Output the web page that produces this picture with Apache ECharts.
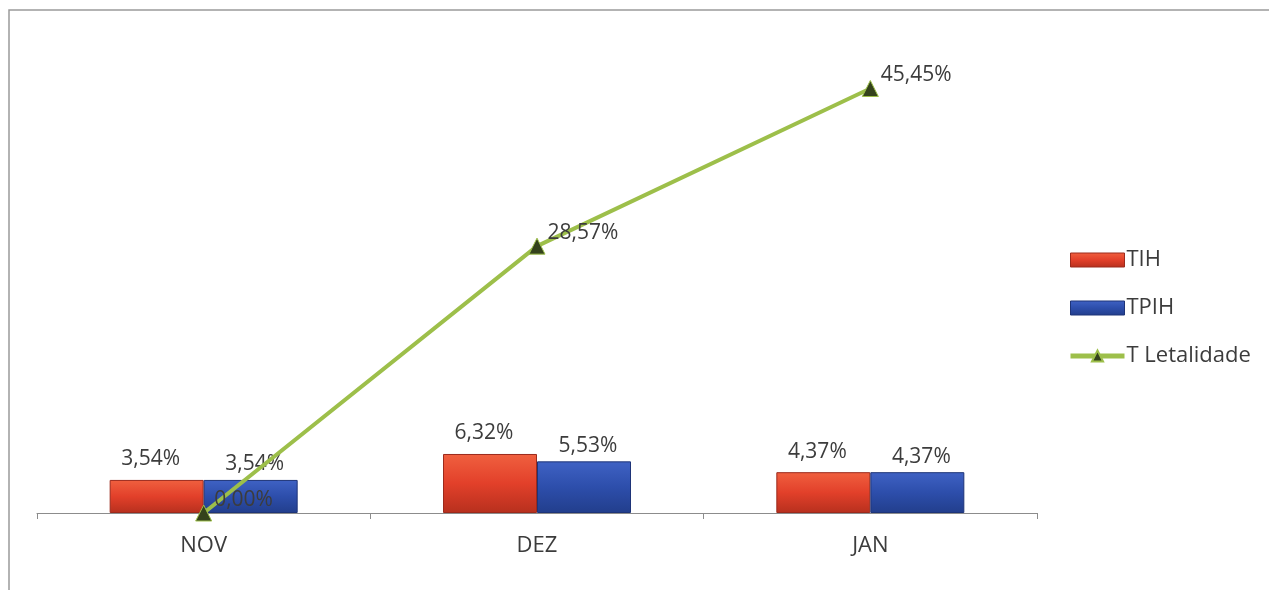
<!DOCTYPE html>
<html>
<head>
<meta charset="utf-8">
<script src="https://cdn.jsdelivr.net/npm/echarts@6/dist/echarts.min.js"></script>
<style>
  html, body { margin: 0; padding: 0; background: #fff; }
  #box { width: 1269px; height: 590px; }
</style>
</head>
<body>
<div id="box"></div>
<script>
const categories = ['NOV', 'DEZ', 'JAN'];
const tih = [3.54, 6.32, 4.37];
const tpih = [3.54, 5.53, 4.37];
const letalidade = [0.00, 28.57, 45.45];

const fmt = v => v.toFixed(2).replace('.', ',') + '%';

let myecharts = echarts.init(document.getElementById('box'));

const labelStyle = {
  show: true,
  fontFamily: 'Open Sans',
  fontSize: 21,
  color: '#3c3c3c',
  formatter: p => fmt(p.value)
};

let options = {
  animation: false,
  textStyle: { fontFamily: 'Open Sans' },
  graphic: [
    {
      type: 'polyline',
      shape: { points: [[9, 590], [9, 10], [1269, 10]] },
      style: { stroke: '#9a9a9a', lineWidth: 1.5, fill: null }
    }
  ],
  grid: { left: 37, right: 232, top: 46, bottom: 77 },
  legend: {
    orient: 'vertical',
    left: 1063,
    top: 244,
    itemGap: 26,
    itemWidth: 54,
    itemHeight: 14,
    textStyle: { fontSize: 22, color: '#3c3c3c', fontFamily: 'Open Sans', padding: [0, 0, 0, -3] },
    data: [
      { name: 'TIH', icon: 'rect', itemStyle: { borderWidth: 1 } },
      { name: 'TPIH', icon: 'rect', itemStyle: { borderWidth: 1 } },
      { name: 'T Letalidade', lineStyle: { width: 5 } }
    ]
  },
  xAxis: {
    type: 'category',
    data: categories,
    axisLine: { lineStyle: { color: '#8c8c8c', width: 1 } },
    axisTick: { show: true, length: 6, lineStyle: { color: '#8c8c8c' } },
    axisLabel: { fontSize: 22, color: '#3c3c3c', margin: 22, fontFamily: 'Open Sans' }
  },
  yAxis: {
    type: 'value',
    min: 0,
    max: 50,
    show: false
  },
  series: [
    {
      name: 'TIH',
      type: 'bar',
      data: tih,
      barWidth: 94,
      barGap: '0%',
      itemStyle: {
        color: new echarts.graphic.LinearGradient(0, 0, 0, 1, [
          { offset: 0, color: '#f0603f' },
          { offset: 0.5, color: '#e2402a' },
          { offset: 1, color: '#b7301e' }
        ]),
        borderColor: '#9c2a1c',
        borderWidth: 1
      },
      label: Object.assign({ position: 'top', distance: 10, offset: [-6, 0] }, labelStyle)
    },
    {
      name: 'TPIH',
      type: 'bar',
      data: tpih,
      barWidth: 94,
      itemStyle: {
        color: new echarts.graphic.LinearGradient(0, 0, 0, 1, [
          { offset: 0, color: '#3f62c4' },
          { offset: 0.5, color: '#2d4eab' },
          { offset: 1, color: '#223e8c' }
        ]),
        borderColor: '#1e3478',
        borderWidth: 1
      },
      label: Object.assign({ position: 'top', distance: 5, offset: [4, 0] }, labelStyle)
    },
    {
      name: 'T Letalidade',
      type: 'line',
      data: letalidade,
      symbol: 'triangle',
      symbolSize: 16,
      lineStyle: { color: '#9dbf4a', width: 4 },
      itemStyle: { color: '#34421c', borderColor: '#9dbf4a', borderWidth: 1 },
      z: 5,
      label: Object.assign({ position: 'right', distance: 2, offset: [0, -13] }, labelStyle)
    }
  ]
};

myecharts.setOption(options);
window.onresize = function () {
  myecharts.resize();
};
</script>
</body>
</html>
